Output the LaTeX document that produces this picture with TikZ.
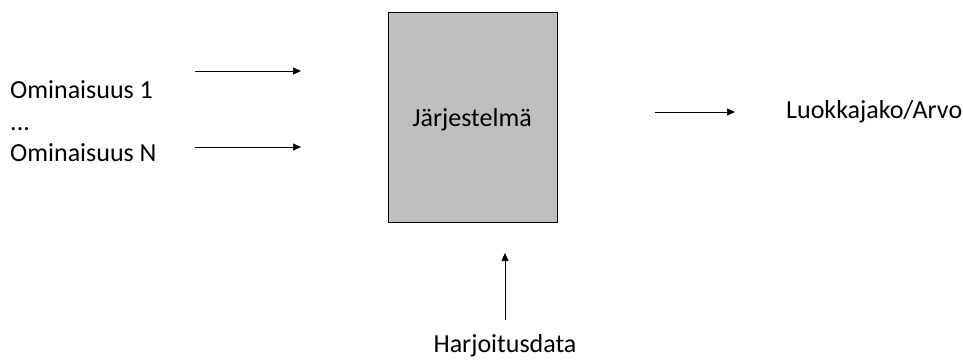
\documentclass[tikz,border=0pt]{standalone}
\usepackage{fontspec}
\setmainfont{Carlito}
\usetikzlibrary{arrows.meta}
\definecolor{boxgray}{RGB}{191,191,191}
\tikzset{
  lbl/.style={font=\fontsize{26}{30}\selectfont, inner sep=0pt},
  conn/.style={-{Triangle[length=8pt,width=7pt]}, line width=0.7pt},
}
\begin{document}
\begin{tikzpicture}[x=1pt,y=-1pt]
\useasboundingbox (0,0) rectangle (963,362);
\node[draw=black, line width=1pt, fill=boxgray, minimum width=169pt, minimum height=210pt, inner sep=0pt] (sys) at (472.5,117.5) {};
\node[lbl, anchor=base] (syslbl) at (472,126) {Järjestelmä};
\node[lbl, anchor=base west] (o1) at (10,98) {Ominaisuus 1};
\node[lbl, anchor=base west] (dots) at (10,130) {...};
\node[lbl, anchor=base west] (on) at (10,161) {Ominaisuus N};
\node[lbl, anchor=base west] (out) at (786,118) {Luokkajako/Arvo};
\node[lbl, anchor=base] (train) at (505,352) {Harjoitusdata};
\coordinate (a1s) at (195,71);
\coordinate (a1e) at (301,71);
\coordinate (a2s) at (195,147);
\coordinate (a2e) at (301,147);
\coordinate (a3s) at (655,112);
\coordinate (a3e) at (735,112);
\coordinate (a4s) at (505,320);
\coordinate (a4e) at (505,253);
\draw[conn] (a1s) -- (a1e);
\draw[conn] (a2s) -- (a2e);
\draw[conn] (a3s) -- (a3e);
\draw[conn] (a4s) -- (a4e);
\end{tikzpicture}
\end{document}
